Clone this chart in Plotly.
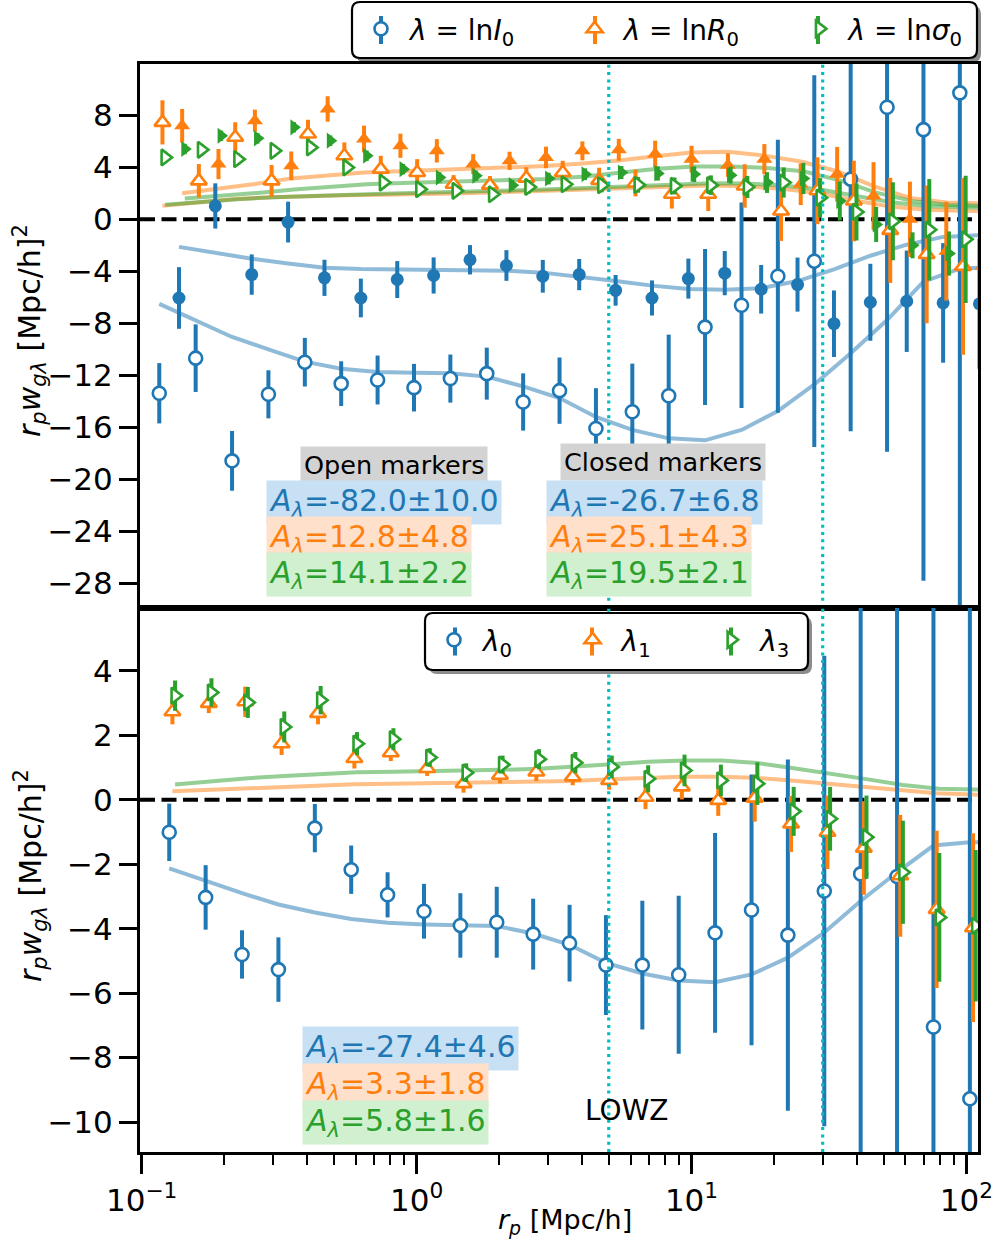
import plotly.graph_objects as go
from plotly.subplots import make_subplots

# ---------------------------------------------------------------- data
# projected separation bins [Mpc/h]
rp_open = [0.1159, 0.1572, 0.2132, 0.2891, 0.3922, 0.5318, 0.7214, 0.9784, 1.327, 1.800,
           2.441, 3.311, 4.491, 6.091, 8.260, 11.20, 15.20, 20.61, 27.96, 37.92,
           51.43, 69.76, 94.61, 128.3]
rp_closed = [0.1367, 0.1853, 0.2514, 0.3409, 0.4624, 0.6270, 0.8505, 1.1535, 1.5645, 2.122,
             2.878, 3.904, 5.295, 7.181, 9.739, 13.21, 17.92, 24.30, 32.97, 44.71,
             60.64, 82.25, 111.5, 151.3]
rp_lowz = [0.1260, 0.1709, 0.2318, 0.3144, 0.4265, 0.5783, 0.7844, 1.064, 1.443, 1.957,
           2.655, 3.601, 4.884, 6.624, 8.982, 12.18, 16.53, 22.41, 30.40, 41.23,
           55.92, 75.86, 102.9, 139.5]
rp_cuts = [5.0, 30.0]

# top panel: lambda = ln I0, ln R0, ln sigma0  (open / closed samples)
I_open = [-13.38, -10.68, -18.58, -13.46, -10.99, -12.64, -12.36, -12.95, -12.25, -11.87,
          -14.05, -13.18, -16.09, -14.8, -13.57, -8.29, -6.61, -4.38, -3.22, 3.09,
          8.62, 6.9, 9.73]
I_open_err = [2.32, 2.6, 2.3, 1.85, 1.87, 1.72, 1.88, 1.83, 1.85, 2.0,
              2.2, 2.55, 3.1, 3.7, 4.7, 6.0, 7.9, 10.5, 14.3, 19.4,
              26.5, 34.7, 45.0]
I_closed = [-6.05, 1.03, -4.25, -0.21, -4.5, -6.05, -4.63, -4.32, -3.11, -3.55,
            -4.38, -4.25, -5.46, -6.05, -4.56, -4.14, -5.38, -5.02, -8.03, -6.38,
            -6.3, -6.43, -6.5]
I_closed_err = [2.37, 1.74, 1.55, 1.57, 1.39, 1.49, 1.42, 1.39, 1.13, 1.18,
                1.26, 1.2, 1.18, 1.35, 1.54, 1.7, 1.87, 2.08, 2.56, 2.96,
                3.9, 4.6, 5.0]
R_open = [7.46, 2.96, 6.31, 2.96, 6.56, 4.89, 3.86, 3.6, 2.7, 2.63,
          3.17, 3.6, 3.0, 2.8, 1.93, 1.93, 2.57, 0.64, 2.2, 1.41,
          -0.85, -2.7, -3.62]
R_open_err = [1.7, 1.29, 1.16, 1.22, 1.1, 1.03, 1.03, 1.03, 0.7, 0.7,
              0.84, 0.9, 0.97, 1.03, 1.1, 1.29, 1.67, 2.3, 2.57, 3.1,
              4.05, 5.3, 6.8]
R_closed = [7.2, 4.25, 7.59, 4.12, 8.49, 6.18, 5.66, 5.27, 4.25, 4.5,
            4.76, 5.27, 5.35, 5.02, 4.63, 4.17, 4.63, 2.7, 3.47, 1.8,
            0.0, -2.45, -3.6]
R_closed_err = [1.29, 1.16, 0.85, 1.1, 0.98, 1.03, 0.93, 0.9, 0.77, 0.7,
                0.83, 0.73, 0.84, 1.03, 1.03, 0.9, 1.16, 1.6, 2.1, 2.6,
                2.9, 3.8, 4.5]
S_open = [4.76, 5.35, 4.63, 5.27, 5.53, 3.99, 2.83, 2.32, 2.19, 1.93,
          2.49, 2.7, 2.63, 2.65, 2.57, 2.63, 2.49, 2.83, 1.67, 0.57,
          -0.15, -0.8, -1.54]
S_open_err = [0.45, 0.45, 0.45, 0.45, 0.45, 0.45, 0.45, 0.45, 0.45, 0.45,
              0.5, 0.5, 0.55, 0.6, 0.65, 0.75, 0.85, 1.16, 1.5, 2.2,
              3.0, 3.9, 4.9]
S_closed = [5.41, 6.43, 6.23, 7.08, 6.05, 4.89, 3.86, 3.22, 3.35, 2.63,
            3.14, 3.47, 3.6, 3.53, 3.47, 3.4, 2.83, 3.14, 1.41, -0.39,
            -2.0, -2.63, -2.9]
S_closed_err = [0.4, 0.4, 0.4, 0.4, 0.4, 0.4, 0.4, 0.4, 0.4, 0.4,
                0.45, 0.45, 0.5, 0.55, 0.6, 0.65, 0.8, 1.2, 1.5, 1.35,
                1.0, 1.7, 2.0]

# top panel model curves
model_I_open = [-6.5, -7.8, -9.05, -10.0, -10.95, -11.5, -11.75, -11.8, -11.85, -12.1,
                -12.85, -13.75, -15.2, -16.2, -16.85, -17.0, -16.2, -14.75, -12.7, -10.3,
                -7.75, -4.8, -3.8, -3.65]
model_I_closed = [-2.12, -2.6, -3.03, -3.4, -3.73, -3.83, -3.86, -3.86, -3.86, -3.95,
                  -4.1, -4.4, -4.75, -5.1, -5.35, -5.42, -5.3, -4.75, -3.85, -2.8,
                  -1.95, -1.35, -1.22]
model_R_open = [1.04, 1.32, 1.57, 1.7, 1.8, 1.86, 1.9, 1.92, 1.98, 2.06,
                2.14, 2.22, 2.32, 2.43, 2.53, 2.6, 2.55, 2.35, 2.04, 1.47,
                0.98, 0.74, 0.66, 0.63]
model_R_closed = [2.0, 2.34, 2.72, 3.15, 3.39, 3.6, 3.7, 3.8, 3.88, 3.98,
                  4.1, 4.3, 4.52, 4.85, 5.15, 5.2, 4.9, 4.45, 3.7, 2.55,
                  1.65, 1.3, 1.23]
model_S_open = [1.13, 1.35, 1.55, 1.7, 1.81, 1.9, 1.97, 2.04, 2.1, 2.18,
                2.26, 2.36, 2.46, 2.58, 2.7, 2.78, 2.75, 2.6, 2.3, 1.8,
                1.3, 1.0, 0.9, 0.88]
model_S_closed = [1.6, 1.8, 2.03, 2.3, 2.5, 2.7, 2.8, 2.9, 2.97, 3.03,
                  3.1, 3.3, 3.6, 3.9, 4.07, 4.07, 3.95, 3.7, 3.0, 2.05,
                  1.4, 1.1, 1.02]

# bottom panel: lambda_0, lambda_1, lambda_3 (LOWZ)
L0 = [-1.01, -3.03, -4.8, -5.27, -0.88, -2.17, -2.95, -3.46, -3.9, -3.8,
      -4.17, -4.45, -5.13, -5.13, -5.43, -4.13, -3.42, -4.2, -2.83, -2.3,
      -2.38, -7.05, -9.28]
L0_err = [0.89, 1.0, 0.75, 1.0, 0.75, 0.75, 0.7, 0.85, 1.0, 1.1,
          1.1, 1.19, 1.55, 2.0, 2.45, 3.1, 4.2, 5.45, 7.3, 10.0,
          12.0, 14.0, 16.0]
L1 = [2.73, 2.99, 3.04, 1.74, 2.68, 1.28, 1.46, 0.97, 0.5, 0.76,
      0.86, 0.71, 0.6, 0.08, 0.4, -0.02, 0.05, -0.75, -1.01, -1.5,
      -2.36, -3.4, -3.97]
L1_err = [0.39, 0.3, 0.47, 0.35, 0.34, 0.31, 0.26, 0.23, 0.28, 0.25,
          0.28, 0.26, 0.29, 0.37, 0.39, 0.48, 0.73, 0.87, 1.14, 1.45,
          1.89, 2.44, 2.93]
L3 = [3.23, 3.33, 3.02, 2.26, 3.09, 1.74, 1.88, 1.31, 0.84, 1.09,
      1.26, 1.15, 1.02, 0.65, 0.91, 0.6, 0.5, -0.36, -0.59, -1.16,
      -2.25, -3.65, -3.91]
L3_err = [0.47, 0.44, 0.48, 0.48, 0.44, 0.36, 0.34, 0.29, 0.29, 0.28,
          0.31, 0.33, 0.35, 0.42, 0.49, 0.49, 0.66, 0.76, 0.99, 1.29,
          1.6, 2.0, 2.35]

model_L0 = [-2.13, -2.53, -2.9, -3.25, -3.5, -3.7, -3.82, -3.87, -3.88, -3.92,
            -4.15, -4.5, -5.06, -5.39, -5.61, -5.66, -5.42, -4.9, -4.12, -3.14,
            -2.25, -1.42, -1.32, -1.3]
model_L1 = [0.26, 0.31, 0.36, 0.4, 0.44, 0.48, 0.5, 0.52, 0.53, 0.54,
            0.56, 0.58, 0.64, 0.68, 0.71, 0.71, 0.68, 0.6, 0.5, 0.4,
            0.3, 0.2, 0.16, 0.15]
model_L3 = [0.47, 0.58, 0.67, 0.74, 0.8, 0.85, 0.87, 0.88, 0.9, 0.93,
            0.96, 1.02, 1.1, 1.18, 1.22, 1.22, 1.14, 0.98, 0.82, 0.64,
            0.46, 0.34, 0.32, 0.31]

amp_open = ["-82.0±10.0", "12.8±4.8", "14.1±2.2"]
amp_closed = ["-26.7±6.8", "25.1±4.3", "19.5±2.1"]
amp_lowz = ["-27.4±4.6", "3.3±1.8", "5.8±1.6"]

top_names = ["<i>λ</i> = ln<i>I</i><sub>0</sub>",
             "<i>λ</i> = ln<i>R</i><sub>0</sub>",
             "<i>λ</i> = ln<i>σ</i><sub>0</sub>"]
bottom_names = ["<i>λ</i><sub>0</sub>", "<i>λ</i><sub>1</sub>", "<i>λ</i><sub>3</sub>"]

y1_ticks = [-28, -24, -20, -16, -12, -8, -4, 0, 4, 8]
y2_ticks = [-10, -8, -6, -4, -2, 0, 2, 4]
x_ticks = [0.1, 1, 10, 100]
x_ticklabels = ["10<sup>−1</sup>", "10<sup>0</sup>", "10<sup>1</sup>", "10<sup>2</sup>"]

# ---------------------------------------------------------------- style
FONT = "DejaVu Sans"
COLORS = ["#1f77b4", "#ff7f0e", "#2ca02c"]
LINE_COLORS = ["rgba(31,119,180,0.5)", "rgba(255,127,14,0.5)", "rgba(44,160,44,0.5)"]
BOX_COLORS = ["#c8e0f4", "#ffe0cb", "#d0f0d0"]
SYMBOLS = ["circle", "triangle-up", "triangle-right"]
SIZES = [13, 14, 14]
DODGE = [1.0, 1.027, 1.05]     # small horizontal shift between the three series
GAP = "&nbsp;" * 5             # extra column spacing inside the legends

Y1_RANGE = [-29.9, 11.95]
Y2_RANGE = [-10.93, 5.95]

W, H = 995, 1245
L, R, T, B = 140, 17, 64, 93
PW, PH = W - L - R, H - T - B


def px_x(px):
    return (px - L) / PW


def px_y(py):
    return (H - B - py) / PH


fig = make_subplots(rows=2, cols=1, shared_xaxes=True, vertical_spacing=0)


def shifted(rp, k, n):
    return [r * DODGE[k] for r in rp[:n]]


def add_model(row, rp, vals, k):
    fig.add_trace(go.Scatter(
        x=shifted(rp, k, len(vals)), y=vals, mode="lines",
        line=dict(color=LINE_COLORS[k], width=4),
        showlegend=False, hoverinfo="skip"), row=row, col=1)


def add_points(row, rp, vals, errs, k, filled, name=None, legend=None):
    marker = dict(symbol=SYMBOLS[k], size=SIZES[k],
                  color=COLORS[k] if filled else "white",
                  line=dict(color=COLORS[k], width=0 if filled else 2.6))
    fig.add_trace(go.Scatter(
        x=shifted(rp, k, len(vals)), y=vals, mode="markers", marker=marker,
        error_y=dict(type="data", array=errs, color=COLORS[k], thickness=4, width=0),
        name=name or "", showlegend=name is not None,
        legend=legend or "legend"), row=row, col=1)


# model curves under the points
for k, (mo, mc) in enumerate([(model_I_open, model_I_closed),
                              (model_R_open, model_R_closed),
                              (model_S_open, model_S_closed)]):
    add_model(1, rp_open, mo, k)
    add_model(1, rp_closed, mc, k)
for k, m in enumerate([model_L0, model_L1, model_L3]):
    add_model(2, rp_lowz, m, k)

top_sets = [(I_open, I_open_err, I_closed, I_closed_err),
            (R_open, R_open_err, R_closed, R_closed_err),
            (S_open, S_open_err, S_closed, S_closed_err)]
for k, (vo, eo, vc, ec) in enumerate(top_sets):
    label = top_names[k] + (GAP if k < 2 else "")
    add_points(1, rp_open, vo, eo, k, False, name=label, legend="legend")
    add_points(1, rp_closed, vc, ec, k, True)

for k, (v, e) in enumerate([(L0, L0_err), (L1, L1_err), (L3, L3_err)]):
    label = bottom_names[k] + (GAP if k < 2 else "")
    add_points(2, rp_lowz, v, e, k, False, name=label, legend="legend2")

# scale cuts
for row, yr in [(1, Y1_RANGE), (2, Y2_RANGE)]:
    for rc in rp_cuts:
        fig.add_trace(go.Scatter(
            x=[rc, rc], y=yr, mode="lines",
            line=dict(color="#00bfbf", width=3.2, dash="3px,4.3px"),
            showlegend=False, hoverinfo="skip"), row=row, col=1)

# zero lines
for xr, yr in [("x domain", "y"), ("x2 domain", "y2")]:
    fig.add_shape(type="line", xref=xr, yref=yr, x0=0, x1=1, y0=0, y1=0,
                  line=dict(color="black", width=4, dash="15px,6.5px"), layer="below")


# rounded legend frames with a soft drop shadow
def rounded_path(x0, y0, x1, y1, r=8):
    X = lambda v: f"{px_x(v):.5f}"
    Y = lambda v: f"{px_y(v):.5f}"
    pts = [f"M{X(x0 + r)},{Y(y0)}",
           f"L{X(x1 - r)},{Y(y0)}",
           f"Q{X(x1)},{Y(y0)} {X(x1)},{Y(y0 + r)}",
           f"L{X(x1)},{Y(y1 - r)}",
           f"Q{X(x1)},{Y(y1)} {X(x1 - r)},{Y(y1)}",
           f"L{X(x0 + r)},{Y(y1)}",
           f"Q{X(x0)},{Y(y1)} {X(x0)},{Y(y1 - r)}",
           f"L{X(x0)},{Y(y0 + r)}",
           f"Q{X(x0)},{Y(y0)} {X(x0 + r)},{Y(y0)}"]
    return " ".join(pts) + " Z"


legend_frames = [(352, 2, 977, 58), (425, 613, 808, 670)]
for (x0, y0, x1, y1) in legend_frames:
    fig.add_shape(type="path", xref="paper", yref="paper", layer="above",
                  path=rounded_path(x0 + 4, y0 + 4, x1 + 4, y1 + 4),
                  fillcolor="rgba(0,0,0,0.45)", line=dict(width=0))
    fig.add_shape(type="path", xref="paper", yref="paper", layer="above",
                  path=rounded_path(x0, y0, x1, y1),
                  fillcolor="white", line=dict(color="black", width=2.2))

# error-bar stroke behind each legend symbol
legend_glyph_x = [[381, 595, 818], [455, 592, 731]]
for (x0, y0, x1, y1), xs in zip(legend_frames, legend_glyph_x):
    yc = (y0 + y1) / 2
    for k, gx in enumerate(xs):
        fig.add_shape(type="line", xref="paper", yref="paper", layer="above",
                      x0=px_x(gx), x1=px_x(gx), y0=px_y(yc - 14), y1=px_y(yc + 14),
                      line=dict(color=COLORS[k], width=4))

# axes
axis_common = dict(showline=True, linecolor="black", linewidth=3, mirror=True,
                   showgrid=False, zeroline=False,
                   tickfont=dict(family=FONT, size=31, color="black"))
fig.update_xaxes(type="log", range=[-1.006, 2.042], **axis_common)
fig.update_xaxes(ticks="", showticklabels=False, row=1, col=1)
minor_vals = [m * 10 ** e for e in (-1, 0, 1) for m in range(2, 10)]
fig.update_xaxes(ticks="outside", ticklen=19, tickwidth=2.5, tickcolor="black",
                 tickmode="array", tickvals=x_ticks, ticktext=x_ticklabels,
                 minor=dict(tickmode="array", tickvals=minor_vals, ticks="outside",
                            ticklen=10, tickwidth=2, tickcolor="black"),
                 row=2, col=1)
fig.update_yaxes(ticks="outside", ticklen=18, tickwidth=2.5, tickcolor="black",
                 tickmode="array", **axis_common)
fig.update_yaxes(range=Y1_RANGE, tickvals=y1_ticks, row=1, col=1)
fig.update_yaxes(range=Y2_RANGE, tickvals=y2_ticks, row=2, col=1)

# text
annotations = []


def note(text, px, py, color="black", bg=None, size=30, anchor="left", angle=0, pad=2):
    annotations.append(dict(
        text=text, x=px_x(px), y=px_y(py), xref="paper", yref="paper",
        xanchor=anchor, yanchor="middle", showarrow=False, textangle=angle,
        font=dict(family=FONT, size=size, color=color),
        bgcolor=bg, borderpad=pad))


ylab = "<i>r</i><sub><i>p</i></sub><i>w</i><sub><i>gλ</i></sub> [Mpc/h]<sup>2</sup>"
note(ylab, 30, 331, size=30, anchor="center", angle=-90)
note(ylab, 30, 876, size=30, anchor="center", angle=-90)
note("<i>r</i><sub><i>p</i></sub> [Mpc/h]", 565, 1221, size=27, anchor="center")

note("Open markers", 394, 465, bg="#d3d3d3", size=25.5, anchor="center", pad=3)
note("Closed markers", 663, 462, bg="#d3d3d3", size=25.5, anchor="center", pad=3)
for k in range(3):
    note("<i>A</i><sub><i>λ</i></sub>=" + amp_open[k], 266, 503 + 35.5 * k,
         color=COLORS[k], bg=BOX_COLORS[k])
    note("<i>A</i><sub><i>λ</i></sub>=" + amp_closed[k], 546, 503 + 35.5 * k,
         color=COLORS[k], bg=BOX_COLORS[k])
    note("<i>A</i><sub><i>λ</i></sub>=" + amp_lowz[k], 302, 1048 + 37 * k,
         color=COLORS[k], bg=BOX_COLORS[k])
note("LOWZ", 627, 1110, size=28, anchor="center")

legend_common = dict(orientation="h", bgcolor="rgba(0,0,0,0)", borderwidth=0,
                     font=dict(family=FONT, size=28, color="black"),
                     itemwidth=48, xanchor="left", yanchor="top")

fig.update_layout(
    width=W, height=H,
    margin=dict(l=L, r=R, t=T, b=B, autoexpand=False),
    paper_bgcolor="white", plot_bgcolor="white",
    font=dict(family=FONT, color="black"),
    annotations=annotations,
    legend=dict(x=px_x(352), y=px_y(4), **legend_common),
    legend2=dict(x=px_x(425), y=px_y(615), **legend_common),
)

fig.write_html("out.html")
